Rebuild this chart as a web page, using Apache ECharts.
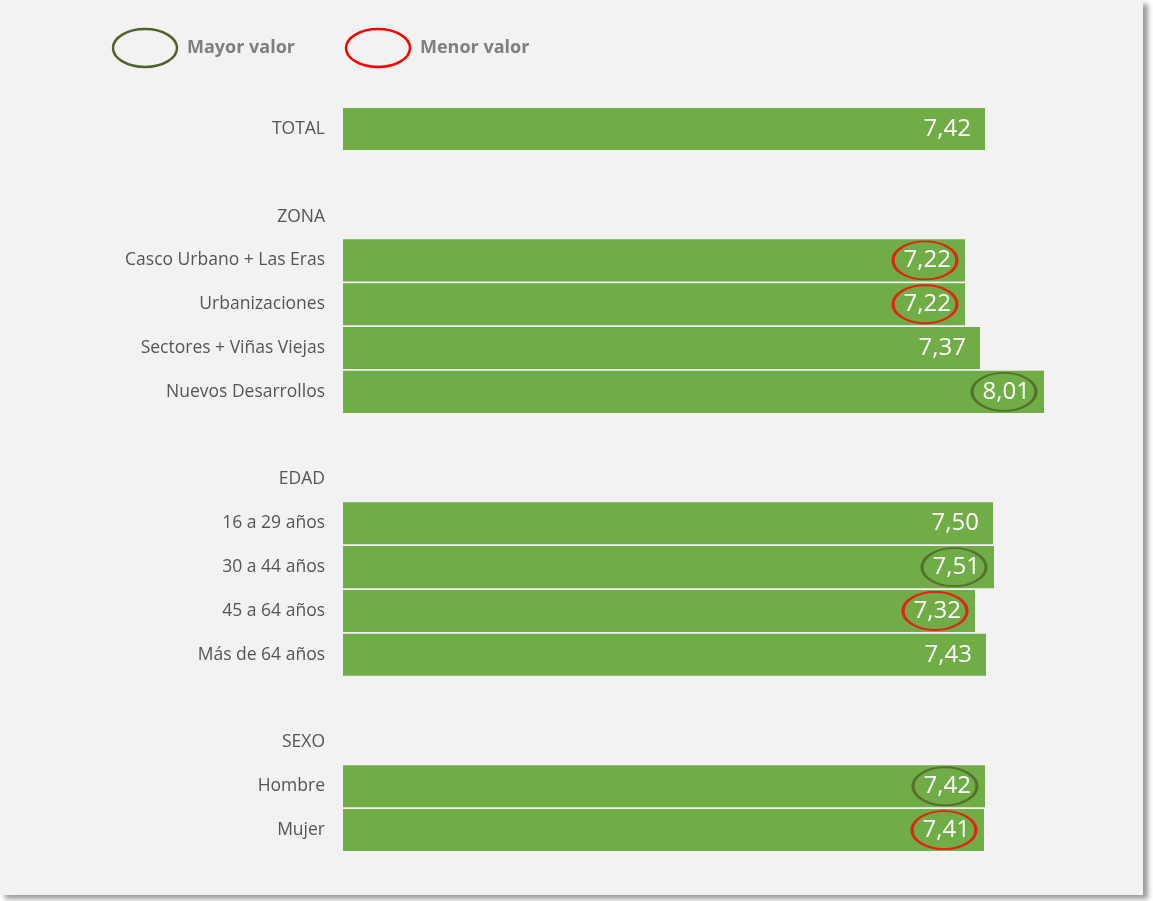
<!DOCTYPE html>
<html lang="es">
<head>
    <meta charset="UTF-8">
    <title>Valoración por zona, edad y sexo</title>
    <script src="https://cdn.jsdelivr.net/npm/echarts@6/dist/echarts.min.js"></script>
    <style>
        body { margin: 0; background: #ffffff; }
        .frame {
            position: absolute; left: 0; top: 0;
            width: 1143px; height: 895px;
            background: #f2f2f2;
            box-shadow: 5px 4px 5px #9a9a9a;
        }
        #chart { width: 1143px; height: 895px; }
    </style>
</head>
<body>
<div class="frame"><div id="chart"></div></div>
<script>
    // rows of the chart, top to bottom (headers and spacers have no value)
    const categories = [
        'TOTAL', ' ', 'ZONA',
        'Casco Urbano + Las Eras', 'Urbanizaciones', 'Sectores + Viñas Viejas', 'Nuevos Desarrollos',
        '  ', 'EDAD',
        '16 a 29 años', '30 a 44 años', '45 a 64 años', 'Más de 64 años',
        '   ', 'SEXO',
        'Hombre', 'Mujer'
    ];
    const values = [
        7.42, null, null,
        7.22, 7.22, 7.37, 8.01,
        null, null,
        7.50, 7.51, 7.32, 7.43,
        null, null,
        7.42, 7.41
    ];
    // highlighted values per group
    const mayorValor = [['Nuevos Desarrollos', 8.01], ['30 a 44 años', 7.51], ['Hombre', 7.42]];
    const menorValor = [['Casco Urbano + Las Eras', 7.22], ['Urbanizaciones', 7.22], ['45 a 64 años', 7.32], ['Mujer', 7.41]];

    const MAYOR_COLOR = '#4f6228';
    const MENOR_COLOR = '#ff0000';

    const chart = echarts.init(document.getElementById('chart'));
    const fmt = v => v.toFixed(2).replace('.', ',');

    const ringSeries = (name, list, color) => ({
        name: name,
        type: 'scatter',
        data: list.map(d => [d[1], d[0]]),
        symbol: 'circle',
        symbolSize: [64, 38],
        symbolOffset: [-40, 0],
        itemStyle: { color: 'rgba(0,0,0,0)', borderColor: color, borderWidth: 2.5 },
        emphasis: { disabled: true },
        z: 5
    });

    // legend key: ellipse + label
    const legendItem = (x, text, color) => ([
        {
            type: 'ellipse',
            shape: { cx: x + 32, cy: 48, rx: 32, ry: 19 },
            style: { fill: 'none', stroke: color, lineWidth: 2.5 }
        },
        {
            type: 'text',
            x: x + 74, y: 48,
            style: {
                text: text, fill: '#7f7f7f', fontSize: 18, fontWeight: 'bold',
                fontFamily: 'Open Sans', verticalAlign: 'middle'
            }
        }
    ]);

    chart.setOption({
        animation: false,
        graphic: [
            ...legendItem(113, 'Mayor valor', MAYOR_COLOR),
            ...legendItem(346, 'Menor valor', MENOR_COLOR)
        ],
        grid: { left: 343, top: 107, width: 800, height: 745 },
        xAxis: {
            type: 'value', min: 1, max: 9,
            show: false
        },
        yAxis: {
            type: 'category',
            inverse: true,
            data: categories,
            axisLine: { show: false },
            axisTick: { show: false },
            axisLabel: { color: '#555555', fontSize: 17.5, fontFamily: 'Open Sans', margin: 18 }
        },
        series: [
            {
                type: 'bar',
                data: values,
                barCategoryGap: '4%',
                itemStyle: { color: '#70ad47' },
                label: {
                    show: true,
                    position: 'insideRight',
                    distance: 14,
                    color: '#ffffff',
                    fontSize: 24,
                    fontFamily: 'Open Sans',
                    formatter: p => fmt(p.value)
                },
                silent: true
            },
            ringSeries('Mayor valor', mayorValor, MAYOR_COLOR),
            ringSeries('Menor valor', menorValor, MENOR_COLOR)
        ]
    });
</script>
</body>
</html>
